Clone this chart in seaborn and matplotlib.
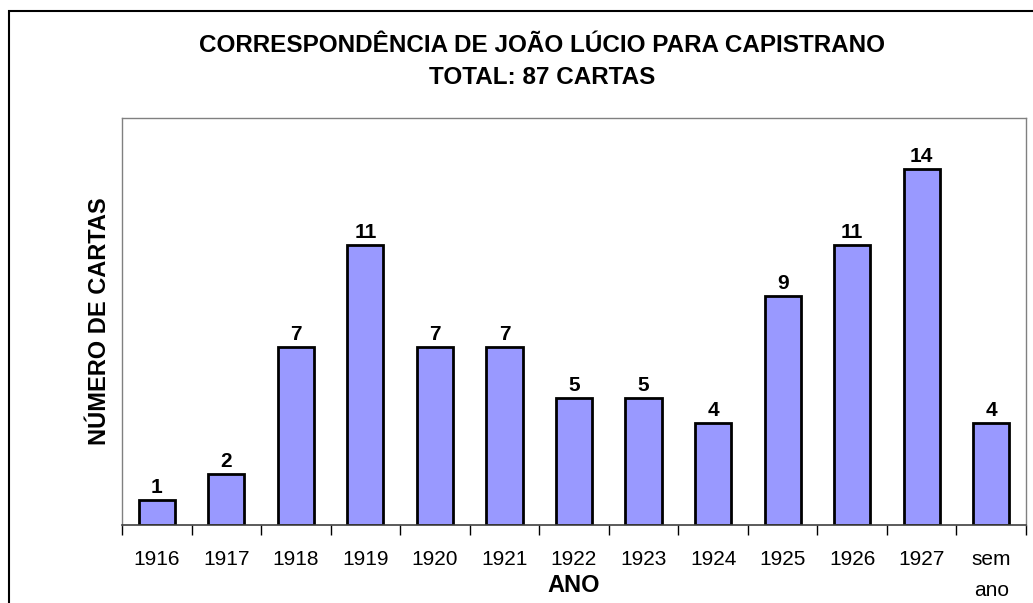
import matplotlib
matplotlib.use("Agg")
import matplotlib.pyplot as plt
import seaborn as sns
import pandas as pd
from matplotlib.patches import Rectangle

# data
anos = ["1916", "1917", "1918", "1919", "1920", "1921", "1922",
        "1923", "1924", "1925", "1926", "1927", "sem\nano"]
cartas = [1, 2, 7, 11, 7, 7, 5, 5, 4, 9, 11, 14, 4]

sns.set_style("white")
plt.rcParams['font.family'] = ['Liberation Sans', 'DejaVu Sans']
plt.rcParams['text.color'] = 'black'
plt.rcParams['axes.labelcolor'] = 'black'
plt.rcParams['xtick.color'] = 'black'

df = pd.DataFrame({"ano": anos, "cartas": cartas})

fig = plt.figure(figsize=(10.33, 6.03), dpi=100)
ax = fig.add_axes([122 / 1033, 78 / 603, 904 / 1033, 407 / 603])

sns.barplot(data=df, x="ano", y="cartas", color="#9999FF", saturation=1,
            width=0.52, edgecolor="black", linewidth=2, ax=ax)

for i, v in enumerate(cartas):
    ax.text(i, v + 0.12, str(v), ha="center", va="bottom",
            fontsize=15, fontweight="bold")

ax.set_xlim(-0.5, len(anos) - 0.5)
ax.set_ylim(0, 16)
ax.set_yticks([])
ax.set_xticks(range(len(anos)))
ax.set_xticklabels(anos, fontsize=15, va="top", linespacing=1.8)
ax.set_xticks([i - 0.5 for i in range(len(anos) + 1)], minor=True)
ax.tick_params(axis="x", which="major", bottom=False, length=0, pad=18)
ax.tick_params(axis="x", which="minor", bottom=True, length=7, width=1,
               color="black", direction="out")

for s in ["top", "right", "left"]:
    ax.spines[s].set_color("#808080")
    ax.spines[s].set_linewidth(1)
ax.spines["bottom"].set_color("#404040")
ax.spines["bottom"].set_linewidth(1.2)

ax.set_xlabel("ANO", fontsize=17, fontweight="bold", va="center")
ax.xaxis.set_label_coords(0.5, -60 / 407)
ax.set_ylabel("NÚMERO DE CARTAS", fontsize=17, fontweight="bold", labelpad=8)

fig.text(542 / 1033, 1 - 46 / 603, "CORRESPONDÊNCIA DE JOÃO LÚCIO PARA CAPISTRANO",
         ha="center", va="center", fontsize=17.5, fontweight="bold")
fig.text(542 / 1033, 1 - 78 / 603, "TOTAL: 87 CARTAS",
         ha="center", va="center", fontsize=17.5, fontweight="bold")

# outer frame
fig.patches.append(Rectangle((9 / 1033, -0.1), 1.2, 1 - 11 / 603 + 0.1,
                             transform=fig.transFigure, fill=False,
                             edgecolor="black", linewidth=1.5))

fig.savefig("out.png", dpi=100)
